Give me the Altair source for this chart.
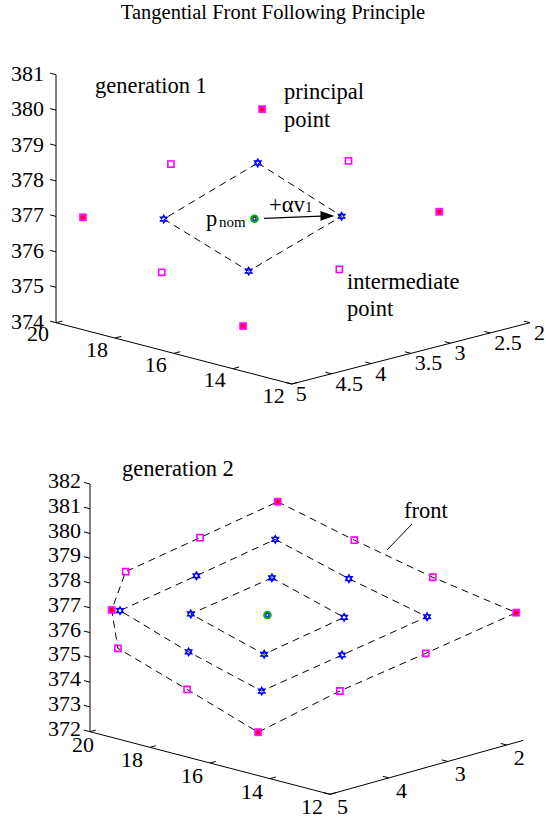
import altair as alt
import pandas as pd

W, H = 546, 821
SERIF = "Liberation Serif"

# ------------------------------------------------------------------ data
# 3-D coordinates (x, y, z)
X_TICKS = [20, 18, 16, 14, 12]
G1_Y_TICKS = [5, 4.5, 4, 3.5, 3, 2.5, 2]
G1_Z_TICKS = [374, 375, 376, 377, 378, 379, 380, 381]
G2_Y_TICKS = [5, 4, 3, 2]
G2_Z_TICKS = [372, 373, 374, 375, 376, 377, 378, 379, 380, 381, 382]
G1_LIMITS = {"x": (12, 20), "y": (2, 5), "z": (374, 381)}
G2_LIMITS = {"x": (12, 20), "y": (1.72, 5), "z": (372, 382)}

# generation 1
G1_CENTER = [16.5, 3.80, 377.0]
G1_PRINCIPAL_X = [16.21, 13.84, 16.83, 18.95]
G1_PRINCIPAL_Y = [3.81, 2.46, 3.82, 5.05]
G1_PRINCIPAL_Z = [380.16, 377.00, 373.91, 377.23]
G1_STAR_X = [16.36, 15.24, 16.67, 17.80]
G1_STAR_Y = [3.81, 3.17, 3.81, 4.46]
G1_STAR_Z = [378.61, 376.98, 375.49, 377.09]
G1_INTER_X = [17.61, 15.06, 15.37, 17.92]
G1_INTER_Y = [4.44, 3.15, 3.15, 4.44]
G1_INTER_Z = [378.67, 378.57, 375.44, 375.55]
G1_ARROW_START = [16.36, 3.73, 377.0]
G1_ARROW_HEAD = [15.45, 3.27, 377.0]

# generation 2
G2_CENTER = [16.5, 3.77, 377.0]
G2_RING1_X = [16.35, 15.22, 16.63, 17.78]
G2_RING1_Y = [3.77, 3.12, 3.76, 4.42]
G2_RING1_Z = [378.55, 376.88, 375.37, 377.07]
G2_RING2_X = [16.22, 15.06, 13.83, 15.33, 16.75, 17.89, 18.96, 17.61]
G2_RING2_Y = [3.78, 3.12, 2.42, 3.10, 3.74, 4.40, 5.02, 4.41]
G2_RING2_Z = [380.15, 378.49, 376.88, 375.31, 373.83, 375.49, 377.23, 378.66]
G2_FRONT_X = [16.10, 14.90, 13.66, 12.33, 13.93, 15.44, 16.89, 18.00, 19.07, 19.10, 18.79, 17.47]
G2_FRONT_Y = [3.80, 3.11, 2.41, 1.67, 2.39, 3.08, 3.73, 4.37, 5.00, 5.09, 5.01, 4.42]
G2_FRONT_Z = [381.72, 380.09, 378.52, 377.02, 375.35, 373.81, 372.12, 373.92, 375.66, 377.26, 378.85, 380.25]
G2_FRONT_KIND = ["principal", "intermediate", "intermediate"] * 4

# ------------------------------------------------------------------ projection (layout)
PROJ = {
    "g1": dict(ox=291.7, oy=384.0, x0=12, y0=5, z0=374, xx=-29.46, xy=-7.66, yx=-79.43, yy=20.43, zs=35.43),
    "g2": dict(ox=330.0, oy=794.3, x0=12, y0=5, z0=372, xx=-30.0, xy=-7.825, yx=-58.9, yy=16.43, zs=24.77),
}
LIMITS = {"g1": G1_LIMITS, "g2": G2_LIMITS}
Y_TICKS = {"g1": G1_Y_TICKS, "g2": G2_Y_TICKS}
Z_TICKS = {"g1": G1_Z_TICKS, "g2": G2_Z_TICKS}

# ------------------------------------------------------------------ tables
pts = []
def add_pts(panel, kind, xs, ys, zs):
    for a, b, c in zip(xs, ys, zs):
        pts.append(dict(panel=panel, kind=kind, x=a, y=b, z=c))

add_pts("g1", "principal", G1_PRINCIPAL_X, G1_PRINCIPAL_Y, G1_PRINCIPAL_Z)
add_pts("g1", "star", G1_STAR_X, G1_STAR_Y, G1_STAR_Z)
add_pts("g1", "intermediate", G1_INTER_X, G1_INTER_Y, G1_INTER_Z)
add_pts("g1", "center", [G1_CENTER[0]], [G1_CENTER[1]], [G1_CENTER[2]])
add_pts("g2", "star", G2_RING1_X, G2_RING1_Y, G2_RING1_Z)
add_pts("g2", "star", G2_RING2_X, G2_RING2_Y, G2_RING2_Z)
for a, b, c, k in zip(G2_FRONT_X, G2_FRONT_Y, G2_FRONT_Z, G2_FRONT_KIND):
    pts.append(dict(panel="g2", kind=k, x=a, y=b, z=c))
add_pts("g2", "center", [G2_CENTER[0]], [G2_CENTER[1]], [G2_CENTER[2]])
points = pd.DataFrame(pts)

paths = []
def add_path(panel, ring, xs, ys, zs):
    n = len(xs)
    for i in range(n + 1):
        j = i % n
        paths.append(dict(panel=panel, ring=ring, order=i, x=xs[j], y=ys[j], z=zs[j]))

add_path("g1", "g1", G1_STAR_X, G1_STAR_Y, G1_STAR_Z)
add_path("g2", "r1", G2_RING1_X, G2_RING1_Y, G2_RING1_Z)
add_path("g2", "r2", G2_RING2_X, G2_RING2_Y, G2_RING2_Z)
add_path("g2", "front", G2_FRONT_X, G2_FRONT_Y, G2_FRONT_Z)
path_df = pd.DataFrame(paths)

segs, ticks = [], []
for p in ["g1", "g2"]:
    L = LIMITS[p]
    xmin, xmax = L["x"]; ymin, ymax = L["y"]; zmin, zmax = L["z"]
    segs += [
        dict(panel=p, x=xmax, y=ymax, z=zmin, xb=xmax, yb=ymax, zb=zmax),
        dict(panel=p, x=xmax, y=ymax, z=zmin, xb=xmin, yb=ymax, zb=zmin),
        dict(panel=p, x=xmin, y=ymax, z=zmin, xb=xmin, yb=ymin, zb=zmin),
    ]
    for v in Z_TICKS[p]:
        ticks.append(dict(panel=p, axis="z", label=f"{v:g}", x=xmax, y=ymax, z=v, xb=xmax + 0.2, yb=ymax, zb=v))
    dy_t = 0.08 if p == "g1" else 0.1
    for v in X_TICKS:
        ticks.append(dict(panel=p, axis="x", label=f"{v:g}", x=v, y=ymax, z=zmin, xb=v, yb=ymax - dy_t, zb=zmin))
    for v in Y_TICKS[p]:
        ticks.append(dict(panel=p, axis="y", label=f"{v:g}", x=xmin, y=v, z=zmin, xb=xmin + 0.2, yb=v, zb=zmin))
seg_df = pd.DataFrame(segs)
tick_df = pd.DataFrame(ticks)
arrow_df = pd.DataFrame([dict(panel="g1", x=G1_ARROW_START[0], y=G1_ARROW_START[1], z=G1_ARROW_START[2],
                              xb=G1_ARROW_HEAD[0], yb=G1_ARROW_HEAD[1], zb=G1_ARROW_HEAD[2])])

# ------------------------------------------------------------------ helpers
XS = alt.Scale(domain=[0, W], range=[0, W], nice=False, zero=False)
YS = alt.Scale(domain=[0, H], range=[0, H], nice=False, zero=False)

def X(f):
    return alt.X(f"{f}:Q", scale=XS, axis=None)

def Y(f):
    return alt.Y(f"{f}:Q", scale=YS, axis=None)

def proj(ch, p, suffix="", xf="x", yf="y", zf="z"):
    P = PROJ[p]
    sx = f"{P['ox']} + (datum.{xf} - ({P['x0']})) * ({P['xx']}) + (datum.{yf} - ({P['y0']})) * ({P['yx']})"
    sy = (f"{P['oy']} + (datum.{xf} - ({P['x0']})) * ({P['xy']}) + (datum.{yf} - ({P['y0']})) * ({P['yy']})"
          f" - (datum.{zf} - ({P['z0']})) * ({P['zs']})")
    return ch.transform_calculate(**{"sx" + suffix: sx, "sy" + suffix: sy})

def base(df, p, extra=None):
    expr = f"datum.panel == '{p}'" + (f" && {extra}" if extra else "")
    return alt.Chart(df).transform_filter(expr)

STAR = "M0,-1L0.866,0.5L-0.866,0.5Z M0,1L0.866,-0.5L-0.866,-0.5Z"
HEAD = "M1,0L-1,-0.7L-1,0.7Z"
MAG, RED, BLUE, GREEN = "#ff00ff", "#ff0000", "#0000ff", "#00b000"
TICK_FS = 22

layers = []
ZLAB_DX = {"g1": -12, "g2": -9}
ZLAB_DY = {"g1": -1, "g2": -3}
XLAB_DY = {"g1": 11.5, "g2": 13}
YLAB_DX = {"g1": 4, "g2": 7}
YLAB_DY = {"g1": 10, "g2": 13}

for p in ["g1", "g2"]:
    # axis lines
    layers.append(proj(proj(base(seg_df, p), p), p, "2", "xb", "yb", "zb")
                  .mark_rule(color="black", strokeWidth=1)
                  .encode(x=X("sx"), y=Y("sy"), x2=alt.X2("sx2"), y2=alt.Y2("sy2")))
    # tick marks
    layers.append(proj(proj(base(tick_df, p), p), p, "2", "xb", "yb", "zb")
                  .mark_rule(color="black", strokeWidth=1)
                  .encode(x=X("sx"), y=Y("sy"), x2=alt.X2("sx2"), y2=alt.Y2("sy2")))
    # tick labels
    layers.append(proj(base(tick_df, p, "datum.axis == 'z'"), p)
                  .mark_text(font=SERIF, fontSize=TICK_FS, align="right", baseline="middle",
                             dx=ZLAB_DX[p], dy=ZLAB_DY[p], color="black")
                  .encode(x=X("sx"), y=Y("sy"), text="label:N"))
    if p == "g1":
        layers.append(proj(base(tick_df, p, "datum.axis == 'x'"), p)
                      .mark_text(font=SERIF, fontSize=TICK_FS, align="center", baseline="middle", dx=-18, dy=XLAB_DY[p], color="black")
                      .encode(x=X("sx"), y=Y("sy"), text="label:N"))
    else:
        layers.append(proj(base(tick_df, p, "datum.axis == 'x' && datum.x != 20"), p)
                      .mark_text(font=SERIF, fontSize=TICK_FS, align="center", baseline="middle", dx=-18, dy=XLAB_DY[p], color="black")
                      .encode(x=X("sx"), y=Y("sy"), text="label:N"))
        layers.append(proj(base(tick_df, p, "datum.axis == 'x' && datum.x == 20"), p)
                      .mark_text(font=SERIF, fontSize=TICK_FS, align="center", baseline="middle", dx=-7, dy=XLAB_DY[p], color="black")
                      .encode(x=X("sx"), y=Y("sy"), text="label:N"))
    layers.append(proj(base(tick_df, p, "datum.axis == 'y'"), p)
                  .mark_text(font=SERIF, fontSize=TICK_FS, align="left", baseline="middle", dx=YLAB_DX[p], dy=YLAB_DY[p], color="black")
                  .encode(x=X("sx"), y=Y("sy"), text="label:N"))
    # dashed fronts
    layers.append(proj(base(path_df, p), p)
                  .mark_line(color="black", strokeWidth=1, strokeDash=[7, 5])
                  .encode(x=X("sx"), y=Y("sy"), detail="ring:N", order="order:Q"))
    # markers
    def mk(kind, **kw):
        return (proj(base(points, p, f"datum.kind == '{kind}'"), p)
                .mark_point(opacity=1, **kw).encode(x=X("sx"), y=Y("sy")))
    layers.append(mk("intermediate", shape="square", filled=False, stroke=MAG, strokeWidth=1.6, size=38))
    layers.append(mk("principal", shape="square", filled=True, fill=MAG, stroke=MAG, strokeWidth=0.5, size=52))
    layers.append(mk("principal", shape="circle", filled=True, fill=RED, strokeWidth=0, size=16))
    layers.append(mk("star", shape=STAR, filled=False, stroke=BLUE, strokeWidth=1.3, size=60))
    layers.append(mk("center", shape="circle", filled=False, stroke=GREEN, strokeWidth=2.2, size=40))
    layers.append(mk("center", shape="circle", filled=False, stroke=BLUE, strokeWidth=1.2, size=10))

# arrow +alpha v1
layers.append(proj(proj(base(arrow_df, "g1"), "g1"), "g1", "2", "xb", "yb", "zb")
              .mark_rule(color="black", strokeWidth=1.3)
              .encode(x=X("sx"), y=Y("sy"), x2=alt.X2("sx2"), y2=alt.Y2("sy2")))
layers.append(proj(base(arrow_df, "g1"), "g1", "", "xb", "yb", "zb")
              .mark_point(shape=HEAD, filled=True, fill="black", strokeWidth=0, size=196, opacity=1)
              .encode(x=X("sx"), y=Y("sy")))

# ------------------------------------------------------------------ annotations
ONE = pd.DataFrame({"k": [0]})

def note(text, x, y, size=22.5, align="left", baseline="alphabetic"):
    return (alt.Chart(ONE)
            .mark_text(font=SERIF, fontSize=size, align=align, baseline=baseline, color="black")
            .encode(x=alt.value(x), y=alt.value(y), text=alt.value(text)))

layers += [
    note("Tangential Front Following Principle", 273, 13, size=20.5, align="center", baseline="middle"),
    note("generation 1", 95, 93),
    note("principal", 284, 99),
    note("point", 284, 127),
    note("intermediate", 347, 289),
    note("point", 347, 316),
    note("p", 206, 226),
    note("nom", 219, 227, size=15),
    note("+αv", 269, 212),
    note("1", 305, 212, size=15),
    note("generation 2", 122, 476),
    note("front", 404, 518),
    alt.Chart(ONE).mark_rule(color="black", strokeWidth=1)
    .encode(x=alt.value(412), y=alt.value(524), x2=alt.value(387), y2=alt.value(550)),
]

chart = (alt.layer(*layers)
         .properties(width=W, height=H, padding=0, autosize=alt.AutoSizeParams(type="none"),
                     background="white")
         .configure_view(stroke=None))

chart.save("out.html", embed_options={"renderer": "svg", "actions": False})
